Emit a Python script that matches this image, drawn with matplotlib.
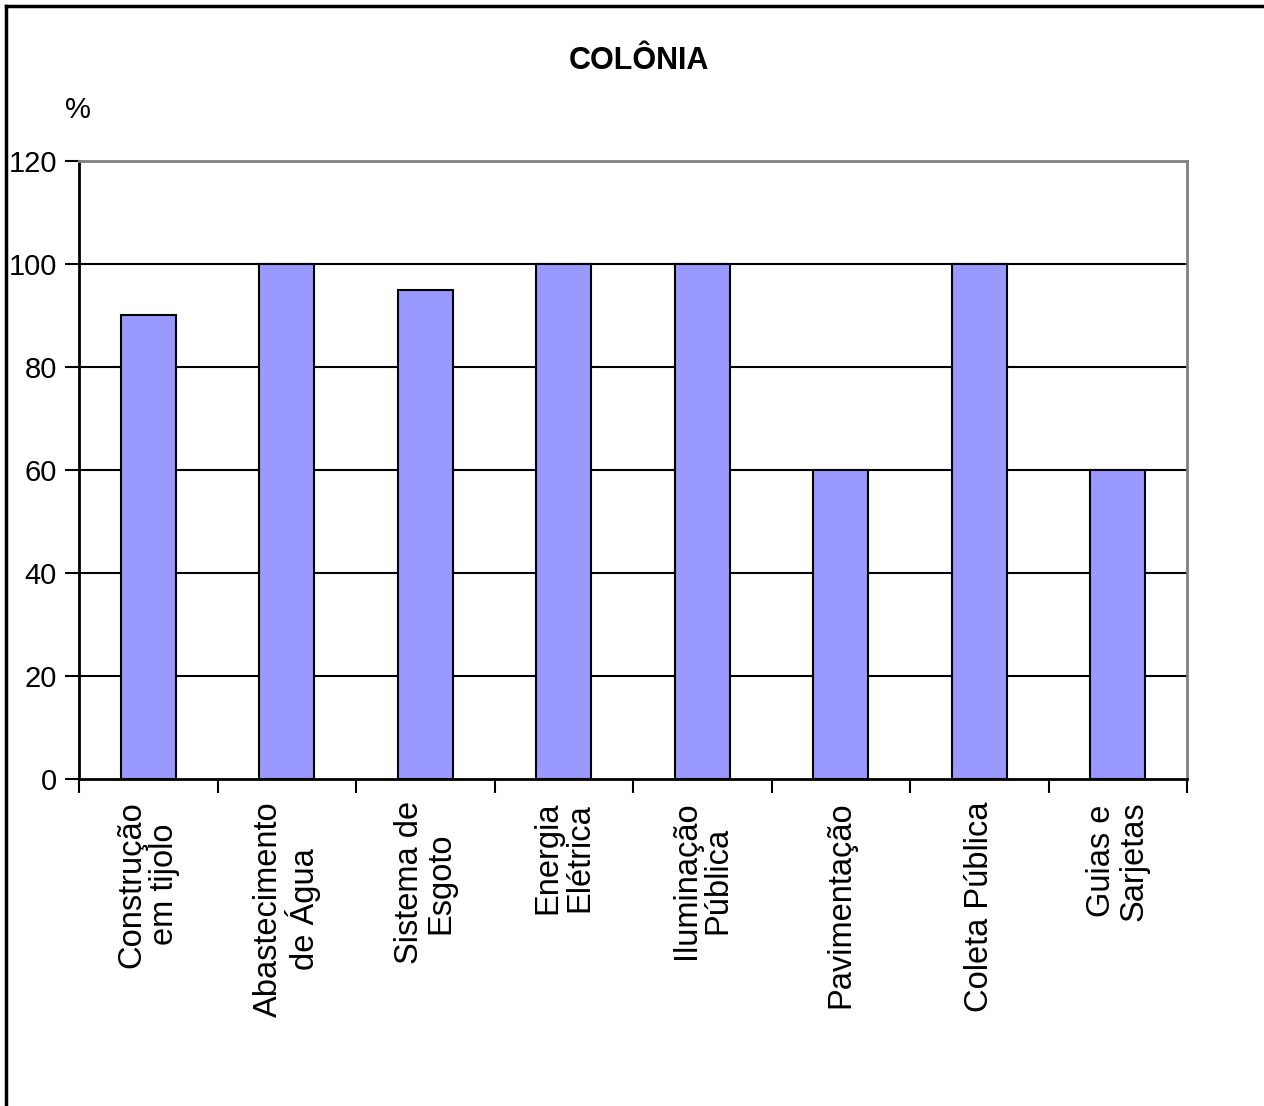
import matplotlib.pyplot as plt
import numpy as np

plt.rcParams['font.family'] = ['Liberation Sans', 'DejaVu Sans']

# Infrastructure coverage by category (%)
categorias = ['Construção\nem tijolo', 'Abastecimento\nde Água', 'Sistema de\nEsgoto',
              'Energia\nElétrica', 'Iluminação\nPública', 'Pavimentação',
              'Coleta Pública', 'Guias e\nSarjetas']
valores = [90, 100, 95, 100, 100, 60, 100, 60]
yticks = [0, 20, 40, 60, 80, 100, 120]

fig = plt.figure(figsize=(12.64, 11.06), dpi=100)
ax = fig.add_axes([79 / 1264, 1 - 779 / 1106, 1108 / 1264, 618 / 1106])

x = np.arange(len(categorias))
ax.bar(x, valores, width=0.4, color='#9999FF', edgecolor='black', linewidth=1.5, zorder=3)

ax.set_xlim(-0.5, len(categorias) - 0.5)
ax.set_ylim(0, 120)
ax.set_yticks(yticks)
ax.tick_params(axis='y', labelsize=21, length=10, width=1.5, direction='out', pad=6)
for v in yticks[1:-1]:
    ax.axhline(v, color='black', linewidth=1.5, zorder=1)

# category labels between boundary ticks
ax.set_xticks(x)
ax.set_xticklabels(categorias, rotation=90, ha='center', va='top',
                   multialignment='center', fontsize=23.5, linespacing=1.05)
ax.tick_params(axis='x', which='major', length=0, pad=16)
ax.set_xticks(np.arange(len(categorias) + 1) - 0.5, minor=True)
ax.tick_params(axis='x', which='minor', length=10, width=1.5, direction='out')

for s in ['left', 'bottom']:
    ax.spines[s].set_color('black')
    ax.spines[s].set_linewidth(2)
for s in ['top', 'right']:
    ax.spines[s].set_color('#808080')
    ax.spines[s].set_linewidth(2)

fig.text(639 / 1264, 1 - 61 / 1106, 'COLÔNIA', ha='center', va='center',
         fontsize=22, fontweight='bold')
fig.text(78 / 1264, 1 - 110 / 1106, '%', ha='center', va='center', fontsize=21)

# outer chart border (top and left edges)
fig.add_artist(plt.Line2D([6 / 1264, 1], [1 - 6 / 1106, 1 - 6 / 1106],
                          transform=fig.transFigure, color='black', linewidth=2.5))
fig.add_artist(plt.Line2D([6 / 1264, 6 / 1264], [0, 1 - 6 / 1106],
                          transform=fig.transFigure, color='black', linewidth=2.5))

fig.savefig('out.png', dpi=100)
